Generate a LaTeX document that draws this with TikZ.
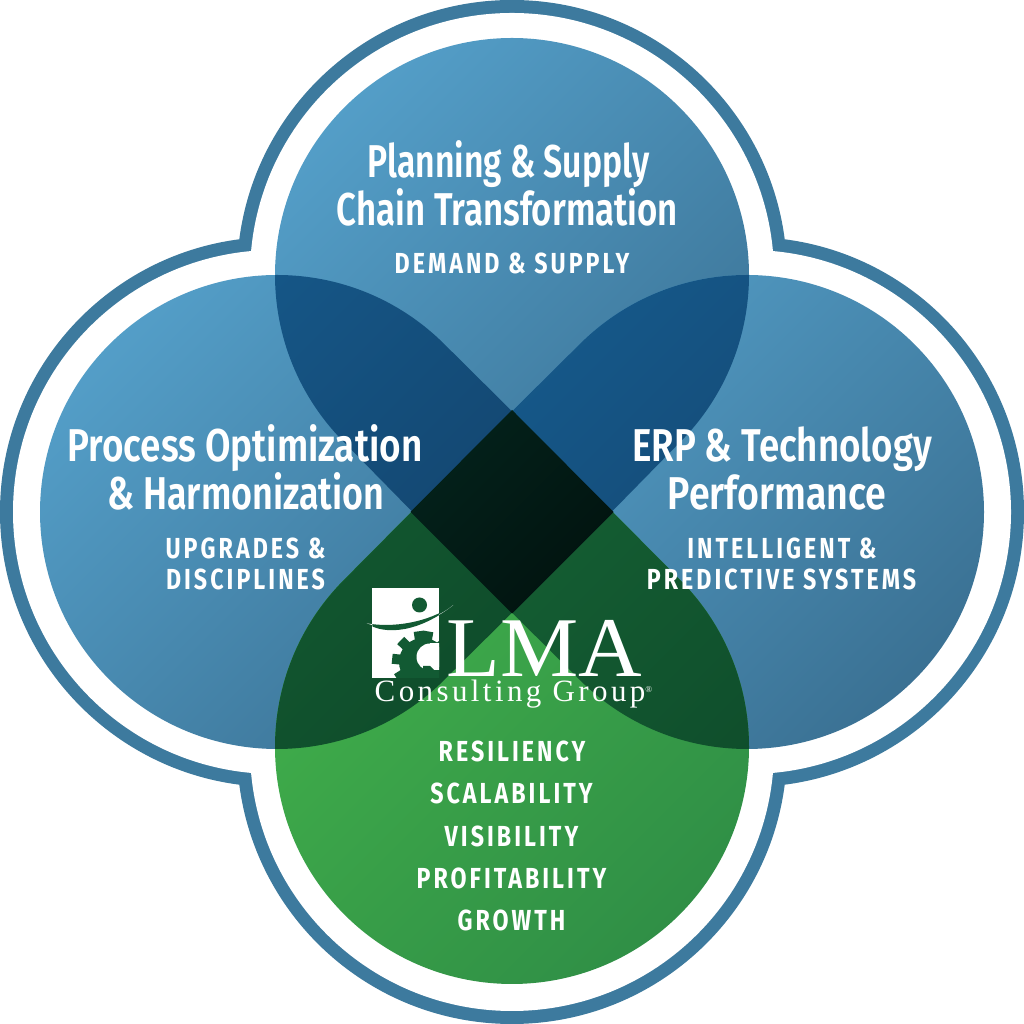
\documentclass[tikz,border=0pt]{standalone}
\usepackage{fontspec}
\newfontfamily\hdfont[FakeStretch=0.716]{Fira Sans SemiBold}
\newfontfamily\subfont[FakeStretch=0.80,LetterSpace=10.5]{Fira Sans Bold}
\newfontfamily\lmafont{Liberation Serif}
\newfontfamily\cgfont[LetterSpace=11]{Liberation Serif}
\definecolor{ringblue}{HTML}{3D7A9E}
\definecolor{logodark}{HTML}{125A33}
\definecolor{blueA}{HTML}{549FC9}
\definecolor{blueB}{HTML}{3A7092}
\definecolor{navyA}{HTML}{165A8C}
\definecolor{navyB}{HTML}{123F66}
\definecolor{greenA}{HTML}{43B34B}
\definecolor{greenB}{HTML}{2F8E46}
\definecolor{dgreenA}{HTML}{176636}
\definecolor{dgreenB}{HTML}{0E4A2A}
\definecolor{coreA}{HTML}{03221B}
\definecolor{coreB}{HTML}{02130F}
\tikzset{
  hdtext/.style={text=white,anchor=base,inner sep=0pt,font=\hdfont\fontsize{46}{46}\selectfont},
  subtext/.style={text=white,anchor=base,inner sep=0pt,font=\subfont\fontsize{29}{29}\selectfont},
  gradblue/.style={top color=blueA,bottom color=blueB,shading angle=45},
  gradnavy/.style={top color=navyA,bottom color=navyB,shading angle=45},
  gradgreen/.style={top color=greenA,bottom color=greenB,shading angle=45},
  graddark/.style={top color=dgreenA,bottom color=dgreenB,shading angle=45},
  gradcore/.style={top color=coreA,bottom color=coreB,shading angle=45},
}
\def\lobeT{(512,410.5) -- ([shift={(512,749)}]-45:237) arc[start angle=-45,end angle=225,radius=237] -- cycle}
\def\lobeL{(613.5,512) -- ([shift={(277,512)}]45:237) arc[start angle=45,end angle=315,radius=237] -- cycle}
\def\lobeR{(410.5,512) -- ([shift={(747,512)}]-135:237) arc[start angle=-135,end angle=135,radius=237] -- cycle}
\def\lobeB{(512,613.5) -- ([shift={(512,277)}]135:237) arc[start angle=135,end angle=405,radius=237] -- cycle}
\begin{document}
\begin{tikzpicture}[x=1pt,y=1pt]
\useasboundingbox (0,0) rectangle (1024,1024);
\fill[white] (0,0) rectangle (1024,1024);
% outer ring
\fill[ringblue] (512,749) circle[radius=275] (275,512) circle[radius=275] (749,512) circle[radius=275] (512,275) circle[radius=275];
\fill[white] (512,749) circle[radius=262] (275,512) circle[radius=262] (749,512) circle[radius=262] (512,275) circle[radius=262];
% lobes
\path[gradblue] \lobeT;
\path[gradblue] \lobeL;
\path[gradblue] \lobeR;
\path[gradgreen] \lobeB;
% overlaps
\begin{scope}\clip \lobeT; \path[gradnavy] \lobeL; \end{scope}
\begin{scope}\clip \lobeT; \path[gradnavy] \lobeR; \end{scope}
\begin{scope}\clip \lobeB; \path[graddark] \lobeL; \end{scope}
\begin{scope}\clip \lobeB; \path[graddark] \lobeR; \end{scope}
\path[gradcore] (512,614) -- (613.5,512) -- (512,410.5) -- (410.5,512) -- cycle;
% top text
\node[hdtext,xscale=1.025] (t1) at (508.5,846) {Planning \& Supply};
\node[hdtext,xscale=1.056] (t2) at (507.5,798) {Chain Transformation};
\node[subtext] (t3) at (512,750) {DEMAND \& SUPPLY};
% left text
\node[hdtext,xscale=1.12] (l1) at (245,562) {Process Optimization};
\node[hdtext,xscale=1.09] (l2) at (246,514) {\& Harmonization};
\node[subtext] (l3) at (245.5,465) {UPGRADES \&};
\node[subtext] (l4) at (245.5,434) {DISCIPLINES};
% right text
\node[hdtext,xscale=1.115] (r1) at (782,562) {ERP \& Technology};
\node[hdtext,xscale=1.14] (r2) at (777,514) {Performance};
\node[subtext] (r3) at (782,465) {INTELLIGENT \&};
\node[subtext] (r4) at (781.5,434) {PREDICTIVE SYSTEMS};
% bottom text
\node[subtext] (b1) at (512,262) {RESILIENCY};
\node[subtext] (b2) at (511.5,220) {SCALABILITY};
\node[subtext] (b3) at (511.5,177) {VISIBILITY};
\node[subtext] (b4) at (511.5,135) {PROFITABILITY};
\node[subtext] (b5) at (511.5,93) {GROWTH};
% logo
\fill[white] (372.3,435.7) rectangle (439,346.3);
\begin{scope}
\clip (372.3,435.7) rectangle (439,346.3);
\fill[logodark] (419.5,419) circle[radius=7.5];
\fill[logodark] (423,362) circle[radius=24];
\foreach \a in {0,38,...,342} {
  \fill[logodark,rotate around={\a+8:(423,362)}] (418,382) rectangle (428,393);
}
\fill[white] (430,367) circle[radius=13.5];
\fill[white] (430,353.5) rectangle (440,380.5);
\fill[logodark] (423,346) -- (437,346) -- (437,351) -- (430,358) -- (423,358) -- cycle;
\end{scope}
\fill[white] (366.7,400.7) .. controls (385,394) and (420,392) .. (453.3,419) .. controls (428,398) and (392,396) .. cycle;
\begin{scope}
\clip (372.3,435.7) rectangle (439,346.3);
\fill[logodark] (366.7,400.7) .. controls (385,388) and (420,392) .. (453.3,419) .. controls (428,401) and (392,396) .. cycle;
\end{scope}
\node[anchor=base,inner sep=0pt,text=white,xscale=1.035,font=\lmafont\fontsize{85}{85}\selectfont] (lma) at (544.5,347) {LMA};
\node[anchor=base,inner sep=0pt,text=white,font=\cgfont\fontsize{31}{31}\selectfont] (cg) at (513.5,322.3) {Consulting Group\raisebox{9pt}{\fontsize{9}{9}\selectfont ®}};
\end{tikzpicture}
\end{document}
